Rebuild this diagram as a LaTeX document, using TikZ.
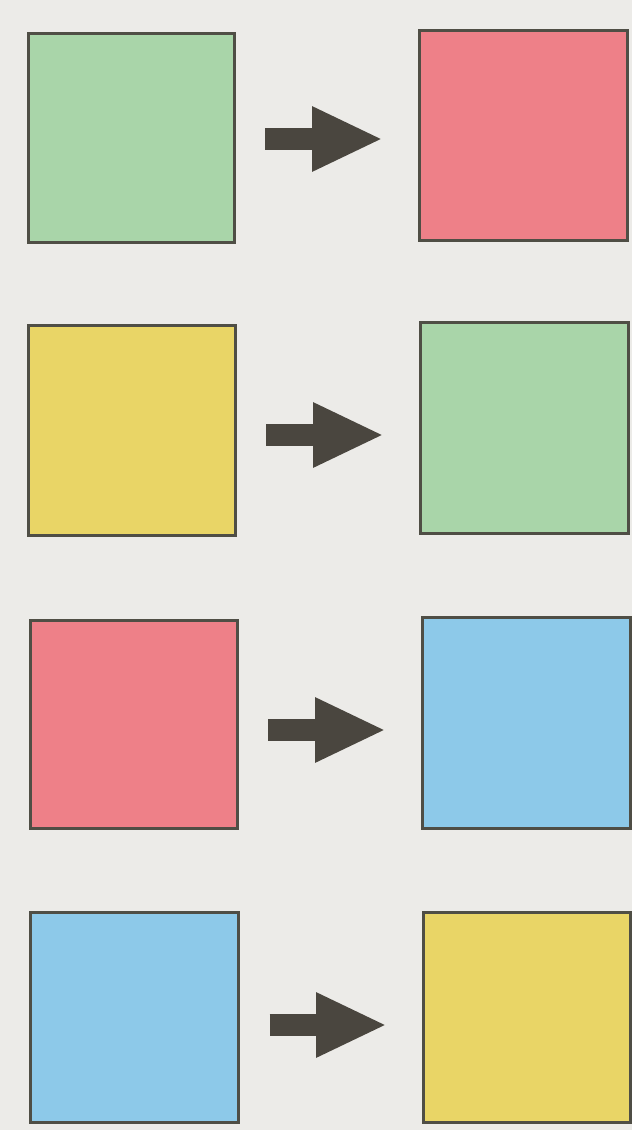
\documentclass[tikz,border=0pt]{standalone}
\usetikzlibrary{arrows.meta}
\definecolor{bgc}{HTML}{ECEBE8}
\definecolor{edgec}{HTML}{4F4E45}
\definecolor{arrc}{HTML}{4A463F}
\definecolor{gr}{HTML}{A9D5A9}
\definecolor{rd}{HTML}{EE8088}
\definecolor{yl}{HTML}{E9D566}
\definecolor{bl}{HTML}{8DC9E9}
\tikzset{
  sq/.style={draw=edgec, line width=3pt, inner sep=0pt, outer sep=0pt},
  bigarrow/.style={draw=arrc, line width=22pt, -{Triangle[length=71pt,width=60pt]}, shorten <=31pt, shorten >=36pt}
}
\begin{document}
\begin{tikzpicture}[x=1pt,y=-1pt]
\fill[bgc] (0,0) rectangle (632,1130);
\useasboundingbox (0,0) rectangle (632,1130);
% row 1
\node[sq, fill=gr, minimum width=206pt, minimum height=209pt] (L1) at (131,137.5) {};
\node[sq, fill=rd, minimum width=208pt, minimum height=210pt] (R1) at (523,135) {};
% row 2
\node[sq, fill=yl, minimum width=207pt, minimum height=210pt] (L2) at (131.5,430) {};
\node[sq, fill=gr, minimum width=208pt, minimum height=211pt] (R2) at (524,427.5) {};
% row 3
\node[sq, fill=rd, minimum width=207pt, minimum height=208pt] (L3) at (133.5,724) {};
\node[sq, fill=bl, minimum width=208pt, minimum height=211pt] (R3) at (526,722.5) {};
% row 4
\node[sq, fill=bl, minimum width=208pt, minimum height=210pt] (L4) at (134.5,1017) {};
\node[sq, fill=yl, minimum width=207pt, minimum height=210pt] (R4) at (526.5,1017) {};
% arrows
\draw[bigarrow] (L1.east |- 0,139) -- (R1.west |- 0,139);
\draw[bigarrow] (L2.east |- 0,435) -- (R2.west |- 0,435);
\draw[bigarrow] (L3.east |- 0,730) -- (R3.west |- 0,730);
\draw[bigarrow] (L4.east |- 0,1025) -- (R4.west |- 0,1025);
\end{tikzpicture}
\end{document}
